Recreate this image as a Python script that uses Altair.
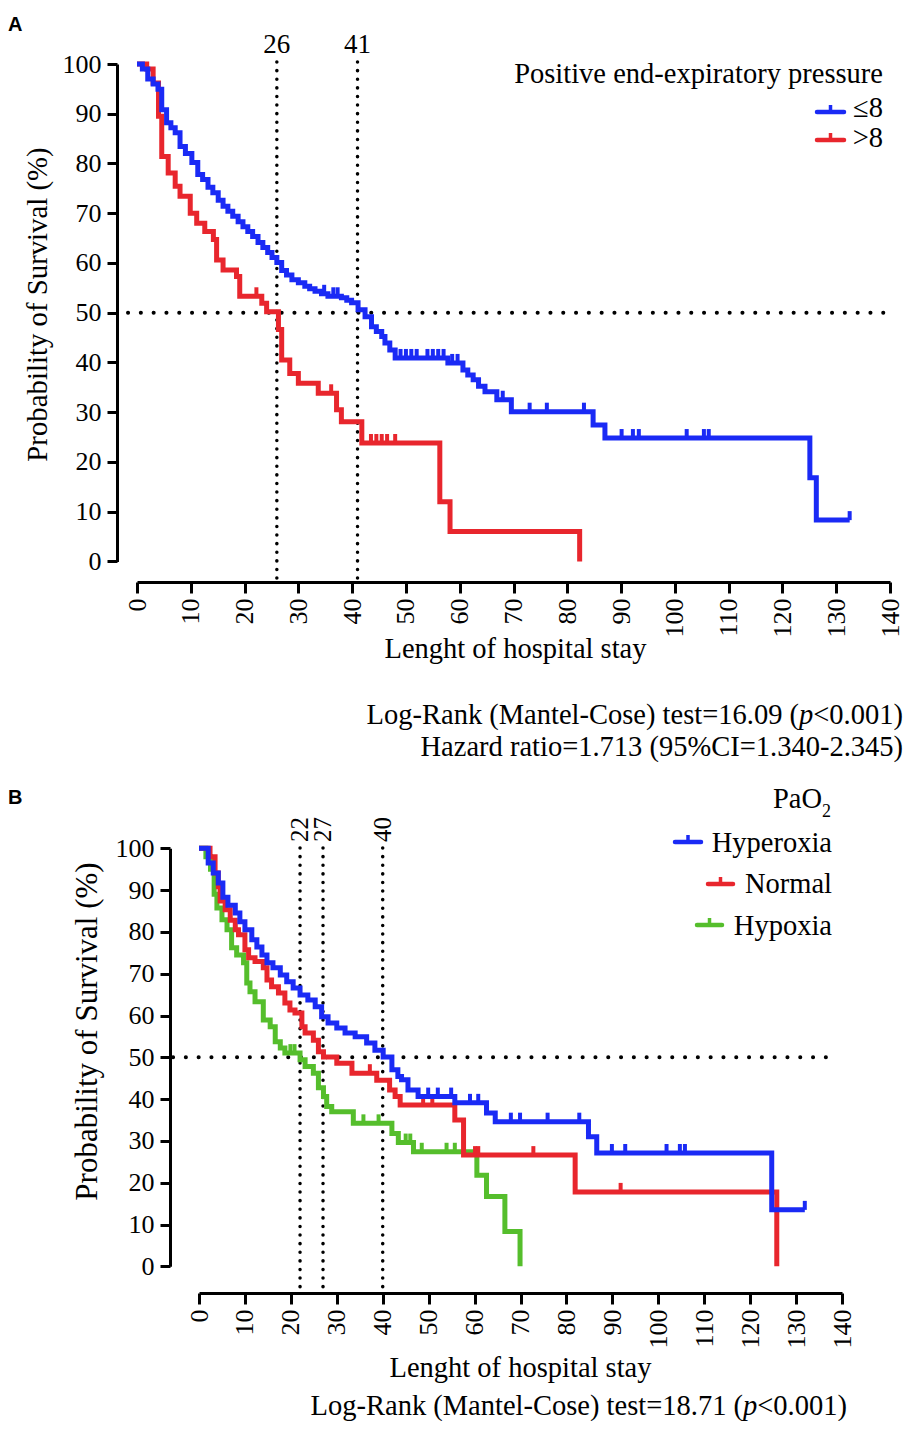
import altair as alt
import pandas as pd

SERIF = "Liberation Serif"
SANS = "Liberation Sans"

# ---------------- data ----------------
# Panel A : Positive end-expiratory pressure
a_groups = ["≤8", ">8"]
a_colors = ["#1a2af5", "#e8262d"]
a_le8_t = [0, 1.0, 2.0, 3.0, 3.9, 4.6, 5.5, 6.3, 7.1, 8.0, 9.0, 10.2, 11.3, 12.2, 13.2,
           14.1, 15.1, 16.0, 16.9, 17.8, 18.8, 19.7, 20.6, 21.5, 22.5, 23.4, 24.3, 25.1,
           26.0, 26.9, 27.8, 28.8, 30.0, 31.2, 32.1, 33.1, 34.3, 35.5, 38.0, 39.0, 39.9,
           41.1, 42.4, 43.6, 44.5, 45.5, 46.1, 47.0, 48.0, 57.8, 60.6, 61.5, 62.5, 63.5,
           64.7, 66.9, 69.6, 84.8, 87.0, 125.1, 126.3, 132.5]
a_le8_s = [100, 99, 97, 96, 94.9, 90.8, 88.2, 87.2, 86.2, 83.4, 82.0, 80.2, 77.8, 76.8, 75.2,
           74.1, 72.6, 71.4, 70.4, 69.4, 68.3, 67.3, 66.3, 65.3, 64.1, 63.1, 62.1, 61.1,
           60.1, 58.5, 57.6, 56.6, 56.0, 55.3, 54.8, 54.3, 53.8, 53.3, 53.0, 52.5, 52.0,
           50.6, 49.2, 47.2, 46.2, 45.2, 43.9, 42.5, 40.9, 39.9, 38.5, 37.5, 36.5, 35.2,
           34.1, 32.5, 30.1, 27.4, 24.8, 16.8, 8.3, 8.3]
a_le8_cens_t = [34.8, 36.5, 37.3, 49.0, 50.0, 51.0, 52.0, 54.0, 55.0, 56.0, 57.0, 58.6, 59.6,
                68.0, 73.0, 76.2, 83.1, 90.1, 92.2, 93.3, 102.2, 105.4, 106.3, 132.5]
a_le8_cens_s = [53.8, 53.3, 53.3, 40.9, 40.9, 40.9, 40.9, 40.9, 40.9, 40.9, 40.9, 39.9, 39.9,
                32.5, 30.1, 30.1, 30.1, 24.8, 24.8, 24.8, 24.8, 24.8, 24.8, 8.3]
a_gt8_t = [0, 1.8, 3.0, 4.0, 4.6, 5.8, 7.1, 8.0, 9.9, 11.1, 12.6, 14.2, 14.8, 16.0, 18.5,
           19.1, 23.2, 24.1, 26.3, 26.9, 28.4, 30.0, 33.7, 37.1, 38.0, 41.8, 56.3, 58.2, 82.3]
a_gt8_s = [100, 99, 96.2, 89.5, 81.4, 78.1, 75.4, 73.4, 70.0, 68.0, 66.3, 64.7, 60.6, 58.6, 57.3,
           53.3, 51.9, 50.2, 46.6, 40.5, 37.8, 35.8, 33.8, 30.5, 28.1, 23.8, 12.0, 6.0, 0]
a_gt8_cens_t = [22.2, 36.1, 43.5, 44.5, 45.5, 46.5, 48.0]
a_gt8_cens_s = [53.3, 33.8, 23.8, 23.8, 23.8, 23.8, 23.8]
a_medians = [26, 41]
a_median_labels = ["26", "41"]
a_half = 50
a_title = "Positive end-expiratory pressure"
a_stats = ["Log-Rank (Mantel-Cose) test=16.09 (", "p", "<0.001)"]
a_hazard = "Hazard ratio=1.713 (95%CI=1.340-2.345)"

# Panel B : PaO2
b_groups = ["Hyperoxia", "Normal", "Hypoxia"]
b_colors = ["#1a2af5", "#e8262d", "#55be2c"]
b_hyper_t = [0, 2.0, 3.1, 4.2, 5.2, 6.3, 7.9, 8.9, 10.0, 11.5, 12.6, 13.7, 14.8, 16.1, 17.7,
             19.1, 20.5, 22.0, 23.7, 25.3, 26.7, 28.1, 30.0, 31.8, 34.0, 36.5, 38.3, 40.1,
             42.0, 43.3, 44.1, 45.5, 47.7, 55.7, 62.6, 64.5, 84.8, 86.6, 124.7, 131.9]
b_hyper_s = [100, 96.5, 94.1, 91.7, 88.3, 86.4, 84.5, 82.4, 80.5, 78.1, 76.4, 74.5, 72.6, 71.4,
             69.7, 68.1, 66.6, 64.9, 63.7, 62.1, 59.7, 58.2, 57.0, 55.8, 54.9, 53.4, 51.7,
             50.1, 47.0, 45.4, 44.6, 42.2, 40.6, 39.1, 36.7, 34.6, 31.0, 27.1, 13.5, 13.5]
b_hyper_cens_t = [49.9, 52.0, 54.9, 59.0, 60.8, 67.9, 69.9, 75.9, 82.8, 89.9, 92.8, 101.8,
                  104.7, 105.8, 131.9]
b_hyper_cens_s = [40.6, 40.6, 40.6, 39.1, 39.1, 34.6, 34.6, 34.6, 34.6, 27.1, 27.1, 27.1,
                  27.1, 27.1, 13.5]
b_norm_t = [0, 2.4, 3.5, 4.2, 4.6, 5.7, 6.8, 7.9, 8.6, 10.0, 10.8, 12.2, 14.0, 14.8, 15.8,
            17.3, 18.7, 19.8, 20.9, 22.4, 23.1, 24.9, 26.0, 27.1, 30.0, 33.3, 38.7, 41.5,
            42.7, 43.8, 55.7, 57.6, 81.9, 125.8]
b_norm_s = [100, 98, 94.1, 90.8, 87.4, 85.3, 82.8, 80.5, 79.3, 75.7, 73.8, 72.9, 71.4, 68.5,
            66.9, 65.4, 63.0, 61.3, 60.6, 57.3, 55.8, 54.1, 51.3, 50.1, 48.6, 46.2, 44.5,
            42.2, 40.6, 38.6, 35.0, 26.6, 17.8, 0]
b_norm_cens_t = [37.2, 48.8, 50.8, 60.1, 60.8, 72.8, 91.8]
b_norm_cens_s = [46.2, 38.6, 38.6, 26.6, 26.6, 26.6, 17.8]
b_hypo_t = [0, 1.5, 2.5, 3.3, 3.9, 5.0, 6.1, 7.1, 8.2, 9.7, 10.4, 11.1, 12.2, 14.0, 15.5,
            16.6, 17.7, 18.7, 22.0, 23.1, 24.9, 26.0, 27.1, 27.8, 28.9, 33.6, 42.0, 43.4,
            46.7, 60.5, 62.6, 66.6, 69.9]
b_hypo_s = [100, 98, 95, 89, 85.7, 82.9, 80.5, 76.2, 74.5, 72.6, 67.8, 65.7, 63.3, 58.9, 57.3,
            53.7, 52.2, 51.0, 49.4, 47.8, 46.2, 42.7, 40.6, 38.2, 37.0, 34.2, 31.8, 29.6,
            27.4, 21.8, 16.7, 8.3, 0]
b_hypo_cens_t = [19.9, 20.8, 35.8, 39.1, 45.0, 46.0, 48.5, 53.9, 55.7]
b_hypo_cens_s = [51.0, 51.0, 34.2, 34.2, 29.6, 29.6, 27.4, 27.4, 27.4]
b_medians = [22, 27, 40]
b_median_labels = ["22", "27", "40"]
b_half = 50
b_stats = ["Log-Rank (Mantel-Cose) test=18.71 (", "p", "<0.001)"]

x_ticks = list(range(0, 141, 10))
y_ticks = list(range(0, 101, 10))
x_title = "Lenght of hospital stay"
y_title = "Probability of Survival (%)"

one = pd.DataFrame({"k": [0]})

# whole-panel canvases (same width, stacked with no gap)
W = 895
HA = 769
HB = 644
FS = 28.5


def x_axis(offset, title_x, title_y):
    return alt.Axis(values=x_ticks, labelAngle=-90, labelFont=SERIF, labelFontSize=26,
                    labelColor="black", labelPadding=5, labelOverlap=False, labelFlush=False,
                    tickSize=11, tickWidth=3, tickColor="black", domainWidth=3,
                    domainColor="black", offset=offset, grid=False, title=x_title,
                    titleFont=SERIF, titleFontSize=FS, titleFontWeight="normal",
                    titleColor="black", titleX=title_x, titleY=title_y,
                    titleBaseline="alphabetic", titleAlign="center")


def y_axis(offset, title_x, title_y, title_size):
    return alt.Axis(values=y_ticks, labelFont=SERIF, labelFontSize=26, labelColor="black",
                    labelPadding=6, labelOverlap=False, labelFlush=False, tickSize=10,
                    tickWidth=3, tickColor="black", domainWidth=3, domainColor="black",
                    offset=offset, grid=False, title=y_title, titleFont=SERIF,
                    titleFontSize=title_size, titleFontWeight="normal", titleColor="black",
                    titleX=title_x, titleY=title_y, titleBaseline="alphabetic",
                    titleAlign="center", titleAngle=270)


def txt(s, x, y, size=FS, align="left", baseline="alphabetic", style="normal",
        weight="normal", font=SERIF, angle=0):
    return alt.Chart(one).mark_text(text=s, fontSize=size, align=align, baseline=baseline,
                                    font=font, fontStyle=style, fontWeight=weight,
                                    angle=angle, color="black").encode(
        x=alt.value(x), y=alt.value(y))


def legend_symbol(x0, x1, y, color):
    bar = alt.Chart(one).mark_rule(color=color, strokeWidth=4.5, strokeCap="round").encode(
        x=alt.value(x0), x2=alt.value(x1), y=alt.value(y))
    tick = alt.Chart(one).mark_rule(color=color, strokeWidth=3.5).encode(
        x=alt.value((x0 + x1) / 2), y=alt.value(y - 7), y2=alt.value(y))
    return [bar, tick]


def km(t, s, ct, cs, color, X, Y):
    line = alt.Chart(pd.DataFrame({"t": t, "s": s})).mark_line(
        interpolate="step-after", color=color, strokeWidth=5, strokeJoin="miter",
        strokeCap="butt").encode(x=X("t"), y=Y("s"))
    ticks = alt.Chart(pd.DataFrame({"t": ct, "s": cs})).mark_tick(
        orient="vertical", color=color, size=9, thickness=4, yOffset=-4.5, opacity=1).encode(
        x=X("t"), y=Y("s"))
    return [line, ticks]


def stats_text(parts, right, y):
    # right-aligned pieces: prefix, italic p, suffix
    w_suffix = 89.7
    w_p = 14.3
    return [txt(parts[2], right, y, align="right"),
            txt(parts[1], right - w_suffix, y, align="right", style="italic"),
            txt(parts[0], right - w_suffix - w_p, y, align="right")]


dot_h = dict(color="black", strokeWidth=4, strokeDash=[0.1, 12.7], strokeCap="round")
dot_v = dict(color="black", strokeWidth=3.5, strokeDash=[0.1, 8.5], strokeCap="round")

# ---------------- Panel A ----------------
xsA = alt.Scale(domain=[0, 140], range=[129, 882], nice=False, zero=False)
ysA = alt.Scale(domain=[0, 100], range=[553.4, 56], nice=False)
axA_x = x_axis(574 - HA, 507, 75)
axA_y = y_axis(-109, -71, 296, 28.8)


def XA(f):
    return alt.X(f + ":Q", scale=xsA, axis=axA_x)


def YA(f):
    return alt.Y(f + ":Q", scale=ysA, axis=axA_y)


refA = pd.DataFrame({"t": a_medians, "lab": a_median_labels})
layersA = [
    alt.Chart(refA).mark_rule(**dot_v).encode(x=XA("t"), y=alt.value(54), y2=alt.value(572)),
    alt.Chart(one).mark_rule(**dot_h).encode(y=alt.Y(datum=a_half, scale=ysA, axis=axA_y),
                                             x=alt.value(120), x2=alt.value(884)),
    alt.Chart(refA).mark_text(font=SERIF, fontSize=27, baseline="alphabetic", color="black").encode(
        x=XA("t"), y=alt.value(45), text="lab:N"),
]
layersA += km(a_gt8_t, a_gt8_s, a_gt8_cens_t, a_gt8_cens_s, a_colors[1], XA, YA)
layersA += km(a_le8_t, a_le8_s, a_le8_cens_t, a_le8_cens_s, a_colors[0], XA, YA)
layersA += [txt("A", 0, 7, size=20, baseline="top", weight="bold", font=SANS),
            txt(a_title, 875, 75, align="right"),
            txt(a_groups[0], 875, 109, align="right"),
            txt(a_groups[1], 875, 139, align="right")]
layersA += legend_symbol(809, 836, 104, a_colors[0])
layersA += legend_symbol(809, 836, 132, a_colors[1])
layersA += stats_text(a_stats, 895, 716)
layersA += [txt(a_hazard, 895, 748, align="right")]
panelA = alt.layer(*layersA).properties(width=W, height=HA)

# ---------------- Panel B ----------------
xsB = alt.Scale(domain=[0, 140], range=[191, 834], nice=False, zero=False)
ysB = alt.Scale(domain=[0, 100], range=[489.3, 71.3], nice=False)
axB_x = x_axis(516 - HB, 512, 83)
axB_y = y_axis(-162, -74, 254, 31)


def XB(f):
    return alt.X(f + ":Q", scale=xsB, axis=axB_x)


def YB(f):
    return alt.Y(f + ":Q", scale=ysB, axis=axB_y)


refB = pd.DataFrame({"t": b_medians, "lab": b_median_labels})
layersB = [
    alt.Chart(refB).mark_rule(**dot_v).encode(x=XB("t"), y=alt.value(71), y2=alt.value(513)),
    alt.Chart(one).mark_rule(**dot_h).encode(y=alt.Y(datum=b_half, scale=ysB, axis=axB_y),
                                             x=alt.value(165), x2=alt.value(824)),
    alt.Chart(refB).mark_text(font=SERIF, fontSize=25, angle=270, align="left",
                              baseline="middle", color="black").encode(
        x=XB("t"), y=alt.value(65), text="lab:N"),
]
layersB += km(b_hypo_t, b_hypo_s, b_hypo_cens_t, b_hypo_cens_s, b_colors[2], XB, YB)
layersB += km(b_norm_t, b_norm_s, b_norm_cens_t, b_norm_cens_s, b_colors[1], XB, YB)
layersB += km(b_hyper_t, b_hyper_s, b_hyper_cens_t, b_hyper_cens_s, b_colors[0], XB, YB)
layersB += [txt("B", 0, 11, size=20, baseline="top", weight="bold", font=SANS),
            txt("PaO", 814, 31, align="right"),
            txt("2", 814, 40, size=18, align="left"),
            txt(b_groups[0], 824, 75, align="right"),
            txt(b_groups[1], 824, 116, align="right"),
            txt(b_groups[2], 824, 158, align="right")]
layersB += legend_symbol(667, 693, 65, b_colors[0])
layersB += legend_symbol(700, 725, 107, b_colors[1])
layersB += legend_symbol(689, 714, 148, b_colors[2])
layersB += stats_text(b_stats, 839, 638)
panelB = alt.layer(*layersB).properties(width=W, height=HB)

chart = alt.vconcat(panelA, panelB, spacing=0).properties(
    padding=0, background="white"
).configure_view(stroke=None)

chart.save("out.html", embed_options={"renderer": "svg", "actions": False})
